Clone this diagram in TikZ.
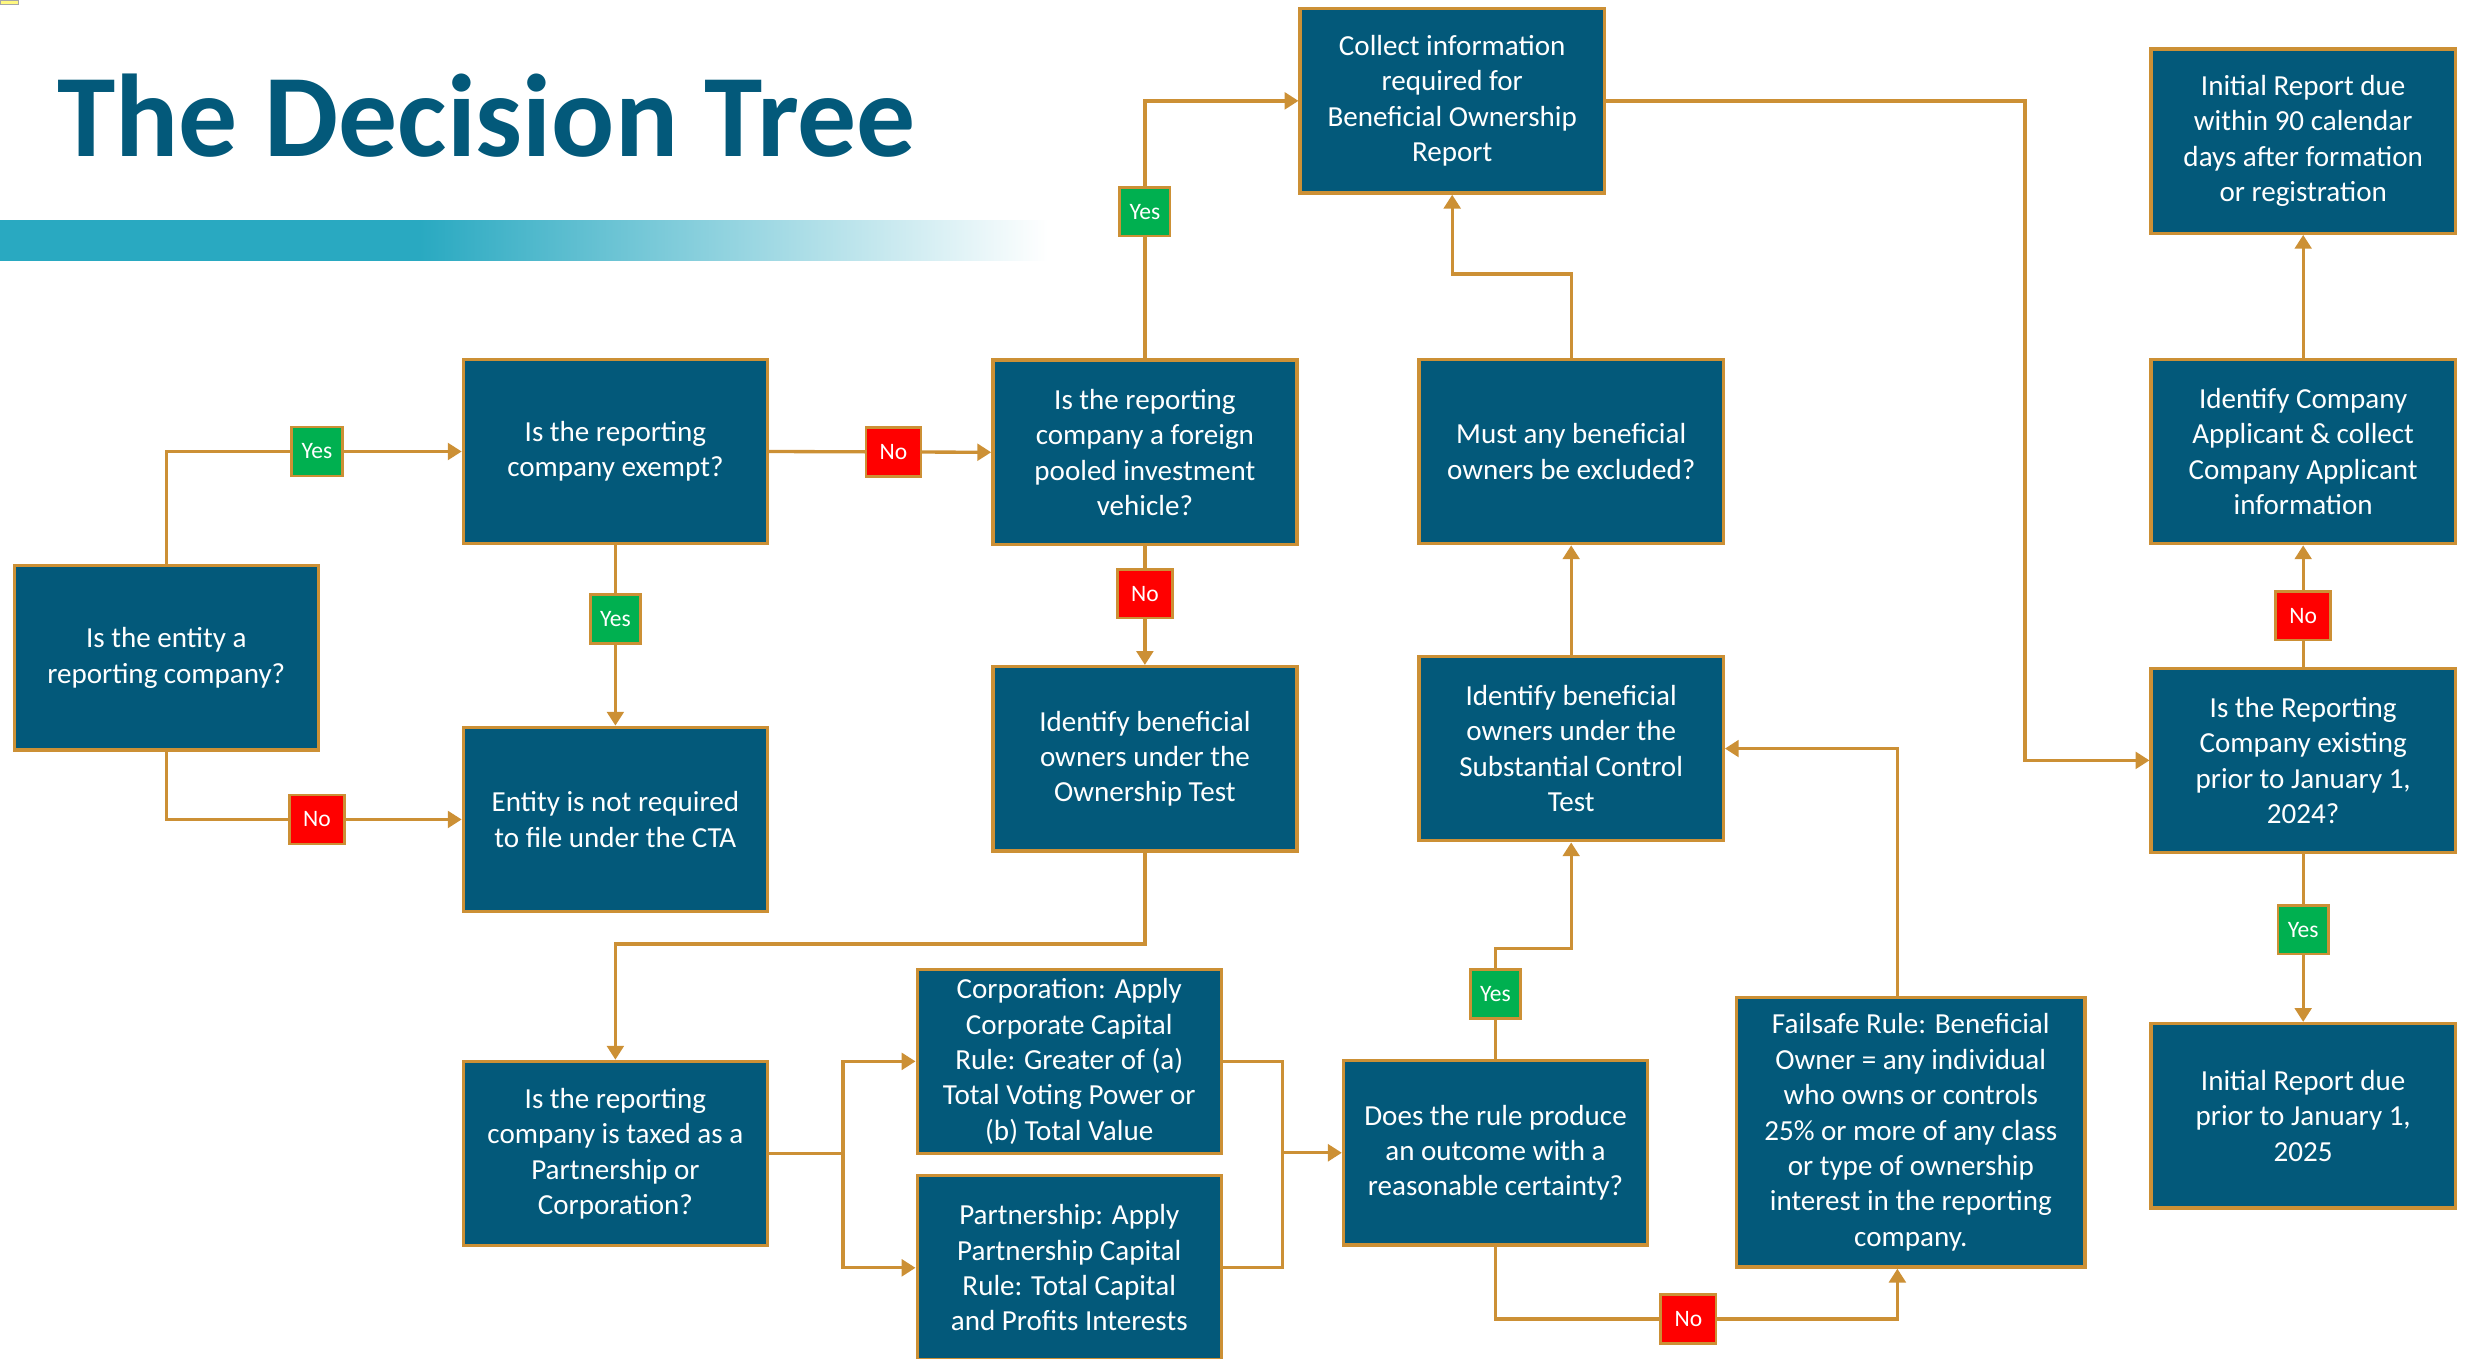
\documentclass[tikz,border=0pt]{standalone}
\usepackage{fontspec}
\setmainfont{Carlito}
\usetikzlibrary{calc}
\usetikzlibrary{arrows.meta}
\usetikzlibrary{positioning}

\definecolor{boxteal}{HTML}{03597A}
\definecolor{gold}{HTML}{CC9035}
\definecolor{barteal}{HTML}{29A9C1}
\definecolor{yesgreen}{HTML}{00B050}
\definecolor{nored}{HTML}{FF0000}
\pgfdeclarehorizontalshading{barfade}{100bp}{color(0bp)=(barteal); color(25bp)=(barteal); color(45bp)=(barteal); color(75bp)=(white); color(100bp)=(white)}

\begin{document}
\begin{tikzpicture} [x=0.02cm, y=-0.02cm,
box/.style={draw=gold, line width=1.2pt, fill=boxteal, text=white, align=center,
  minimum width=3.86cm, minimum height=2.34cm, inner sep=2pt,
  font=\fontsize{10.5}{12.8}\selectfont},
yes/.style={draw=gold, line width=1pt, fill=yesgreen, text=white, inner sep=0pt,
  minimum width=0.64cm, minimum height=0.62cm, font=\fontsize{8.5}{10}\selectfont},
no/.style={yes, fill=nored, minimum width=0.7cm},
link/.style={gold, line width=1.2pt},
go/.style={link, -{Triangle[length=5pt, width=6pt]}}]
\useasboundingbox (0,0) rectangle (1568,862);

\fill[yellow!50, draw=gray!70] (0,0) rectangle (12,3);
\node[anchor=base west, inner sep=0pt, text=boxteal, font=\fontsize{42.5}{50}\selectfont\bfseries] (title) at (36,99) {The Decision Tree};
\shade[shading=barfade] (0,140) rectangle (665,165);

\node[box] (entity) at (105.5,417.5) {Is the entity a\\reporting company?};
\node[box] (exempt) at (390.5,286.5) {Is the reporting\\company exempt?};
\node[box] (notreq) at (390.5,520) {Entity is not required\\to file under the CTA};
\node[box] (fpiv) at (726.5,287) {Is the reporting\\company a foreign\\pooled investment\\vehicle?};
\node[box] (owntest) at (726.5,481.5) {Identify beneficial\\owners under the\\Ownership Test};
\node[box] (collect) at (921.5,64) {Collect information\\required for\\Beneficial Ownership\\Report};
\node[box] (exclude) at (997,286.5) {Must any beneficial\\owners be excluded?};
\node[box] (subst) at (997,475) {Identify beneficial\\owners under the\\Substantial Control\\Test};
\node[box] (taxed) at (390.5,732) {Is the reporting\\company is taxed as a\\Partnership or\\Corporation?};
\node[box] (corp) at (678.5,673.5) {Corporation: Apply\\Corporate Capital\\Rule: Greater of (a)\\Total Voting Power or\\(b) Total Value};
\node[box] (partner) at (678.5,804.5) {Partnership: Apply\\Partnership Capital\\Rule: Total Capital\\and Profits Interests};
\node[box] (rule) at (949,731.5) {Does the rule produce\\an outcome with a\\reasonable certainty?};
\node[box, minimum width=4.42cm, minimum height=3.42cm] (failsafe) at (1212.5,718.5) {Failsafe Rule: Beneficial\\Owner = any individual\\who owns or controls\\25\% or more of any class\\or type of ownership\\interest in the reporting\\company.};
\node[box] (due90) at (1461.5,89.5) {Initial Report due\\within 90 calendar\\days after formation\\or registration};
\node[box] (applicant) at (1461.5,286.5) {Identify Company\\Applicant \& collect\\Company Applicant\\information};
\node[box] (existing) at (1461.5,482.5) {Is the Reporting\\Company existing\\prior to January 1,\\2024?};
\node[box] (due2025) at (1461.5,708) {Initial Report due\\prior to January 1,\\2025};

\draw[go] (entity.north) |- node[yes, pos=0.755] (yes1) {Yes} (exempt.west);
\draw[go] (entity.south) |- node[no, pos=0.755] (no1) {No} (notreq.west);
\draw[go] (exempt.south) -- node[yes, pos=0.41] (yes2) {Yes} (notreq.north);
\draw[go] (exempt.east) -- node[no, pos=0.56] (no2) {No} (fpiv.west);
\draw[go] (fpiv.north) |- node[yes, pos=0.285] (yes3) {Yes} (collect.west);
\draw[go] (fpiv.south) -- node[no, pos=0.4] (no3) {No} (owntest.north);
\draw[go] (owntest.south) -- ++(0,58) -| (taxed.north);

\coordinate (split) at (535,732);
\coordinate (join) at (814,731.5);
\draw[link] (taxed.east) -- (split);
\draw[go] (split) |- (corp.west);
\draw[go] (split) |- (partner.west);
\draw[link] (corp.east) -| (join) |- (partner.east);
\draw[go] (join) -- (rule.west);

\draw[go] (rule.north) -- node[yes, pos=0.59] (yes4) {Yes} ++(0,-70) -| (subst.south);
\draw[go] (rule.south) -- ++(0,46) -| node[no, pos=0.24] (no4) {No} ([xshift=-0.17cm]failsafe.south);
\draw[go] ([xshift=-0.17cm]failsafe.north) |- (subst.east);
\draw[go] (subst.north) -- (exclude.south);
\draw[go] (exclude.north) -- ++(0,-53) -| (collect.south);
\draw[go] (collect.east) -- ++(266,0) |- (existing.west);

\draw[go] (existing.north) -- node[no, pos=0.42] (no5) {No} (applicant.south);
\draw[go] (applicant.north) -- (due90.south);
\draw[go] (existing.south) -- node[yes, pos=0.45] (yes5) {Yes} (due2025.north);

\end{tikzpicture}
\end{document}
